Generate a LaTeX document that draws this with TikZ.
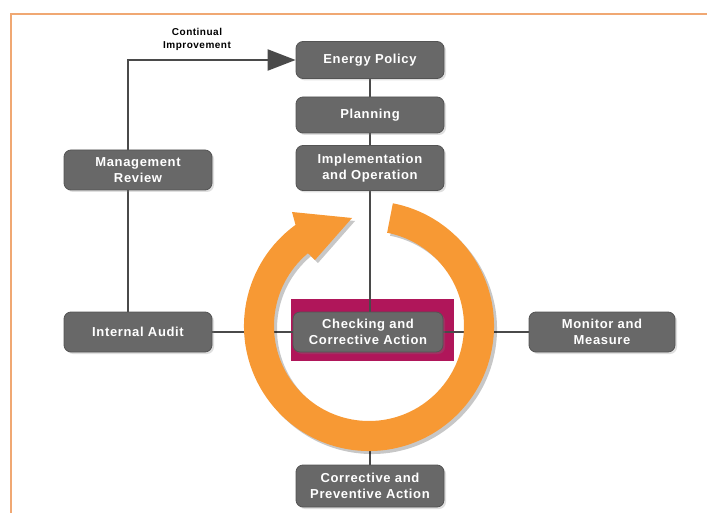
\documentclass[tikz,border=0pt]{standalone}
\usepackage{fontspec}
\setmainfont{Liberation Sans}
\newfontfamily\boxfont{Liberation Sans}[LetterSpace=5]
\usetikzlibrary{arrows.meta,shadows}
\pgfdeclarelayer{hl}
\pgfdeclarelayer{lines}
\pgfdeclarelayer{ring}
\pgfsetlayers{hl,lines,ring,main}
\definecolor{boxgray}{RGB}{104,104,104}
\definecolor{boxedge}{RGB}{84,84,84}
\definecolor{linegray}{RGB}{74,74,74}
\definecolor{ringorange}{RGB}{247,153,52}
\definecolor{magentabox}{RGB}{176,22,90}
\definecolor{frameorange}{RGB}{240,168,115}
\def\myringpath{(392.85,-203.3) arc[start angle=79, end angle=-234, radius=125] -- (292,-212) -- (352,-218) -- (315,-260) -- (307.93,-253.23) arc[start angle=130, end angle=439, radius=95] -- cycle}
\tikzset{
  box/.style={rounded corners=7pt, fill=boxgray, draw=boxedge, line width=0.8pt,
    text=white, font=\boxfont\bfseries\fontsize{13}{16}\selectfont, align=center,
    minimum width=148pt, minimum height=40pt, inner sep=0pt,
    drop shadow={shadow xshift=2pt, shadow yshift=-2pt, opacity=.25}},
  conn/.style={draw=linegray, line width=2.2pt},
  lbl/.style={font=\boxfont\bfseries\fontsize{10}{13}\selectfont, align=center, text=black, inner sep=0pt}
}
\begin{document}
\begin{tikzpicture}[x=1pt,y=1pt]
\useasboundingbox (0,0) rectangle (707,-513);
% frame
\draw[frameorange, line width=2.5pt] (11,-513) -- (11,-14) -- (707,-14);
% boxes
\node[box, minimum height=37pt] (EP) at (370,-60) {Energy Policy};
\node[box, minimum height=36pt] (PL) at (370,-115) {Planning};
\node[box, minimum height=45pt] (IO) at (370,-168) {Implementation\\and Operation};
\node[box] (MR) at (138,-170) {Management\\Review};
\node[box] (IA) at (138,-332) {Internal Audit};
\node[box, minimum width=150pt] (CK) at (368,-332) {Checking and\\Corrective Action};
\node[box, minimum width=146pt] (MM) at (602,-332) {Monitor and\\Measure};
\node[box, minimum height=42pt] (CP) at (370,-486) {Corrective and\\Preventive Action};
\node[lbl] (CI) at (197,-39) {Continual\\Improvement};
\coordinate (ci) at (128,-60);
\coordinate (rb) at (370,-449);
% highlight
\begin{pgfonlayer}{hl}
\node[fill=magentabox, minimum width=163pt, minimum height=62pt, inner sep=0pt] (HL) at (372.5,-330) {};
\end{pgfonlayer}
% connectors
\begin{pgfonlayer}{lines}
\draw[conn] (EP.south) -- (PL.north);
\draw[conn] (PL.south) -- (IO.north);
\draw[conn] (IO.south) -- (IO.south |- CK.north);
\draw[conn] (IA.east) -- (CK.west);
\draw[conn] (CK.east) -- (MM.west);
\draw[conn] (rb) -- (CP.north);
\draw[conn, -{Triangle[length=28pt,width=21pt]}] (IA.north -| ci) -- (ci) -- (EP.west);
\end{pgfonlayer}
% ring
\begin{pgfonlayer}{ring}
\fill[black, opacity=.22, shift={(3pt,-3pt)}] \myringpath;
\fill[ringorange] \myringpath;
\end{pgfonlayer}
\end{tikzpicture}
\end{document}
